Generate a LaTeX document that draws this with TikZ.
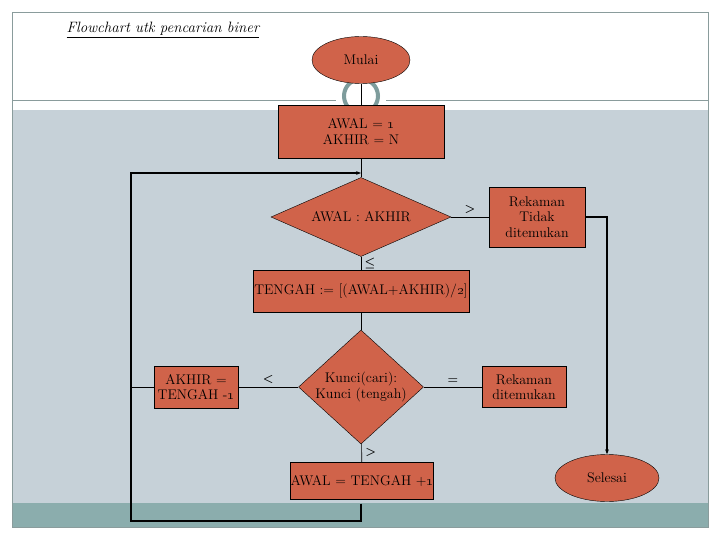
\documentclass[tikz,border=0pt]{standalone}
\usetikzlibrary{shapes.geometric,arrows.meta}
\definecolor{boxred}{RGB}{208,99,74}
\definecolor{slidegray}{RGB}{198,209,216}
\definecolor{slideteal}{RGB}{139,173,173}
\definecolor{framegray}{RGB}{138,156,156}
\definecolor{ringgray}{RGB}{126,156,156}
\begin{document}
\begin{tikzpicture}[x=1pt,y=-1pt,font=\fontsize{14}{15.5}\selectfont]
        \tikzstyle{proses}=[rectangle,draw=black,fill=boxred,inner sep=1pt,align=center]
        \tikzstyle{terminal}=[ellipse,draw=black,fill=boxred,inner sep=0pt]
        \tikzstyle{keputusan}=[diamond,draw=black,fill=boxred,inner sep=0pt,align=center]
        \tikzstyle{edge}=[draw,line width=0.6pt]
        \tikzstyle{loopedge}=[draw,line width=2.6pt]
        \tikzstyle{tanda}=[font=\boldmath\fontsize{13}{13}\selectfont]

        \useasboundingbox (0,0) rectangle (720,540);
        % latar slide
        \fill[white] (0,0) rectangle (720,540);
        \fill[slidegray] (12,110) rectangle (708,503);
        \fill[slideteal] (12,503) rectangle (708,527);
        \draw[framegray] (12,12) rectangle (708,527);
        \draw[framegray] (12,100) -- (708,100);
        \fill[white] (361,100) circle (25);
        \draw[ringgray,line width=4pt] (361,96) circle (17);

        \node [anchor=base west,font=\fontsize{15}{16}\selectfont] (judul) at (63,33) {\itshape\underline{Flowchart utk pencarian biner}};
        \node [terminal,minimum width=98,minimum height=47] (mulai) at (361,60) {Mulai};
        \node [proses,minimum width=166,minimum height=53] (awal) at (361,131.5) {AWAL = \oldstylenums{1}\\AKHIR = N};
        \node [keputusan,aspect=2.28,minimum width=180,minimum height=79] (cek) at (361,217) {AWAL : AKHIR};
        \node [proses,minimum width=96,minimum height=60] (tidak) at (537,217) {Rekaman\\Tidak\\ditemukan};
        \node [proses,minimum width=216,minimum height=42] (tengah) at (361,291) {TENGAH := [(AWAL+AKHIR)/\oldstylenums{2}]};
        \node [keputusan,aspect=1.1,minimum width=125,minimum height=114] (kunci) at (361,387) {Kunci(cari):\\Kunci (tengah)};
        \node [proses,minimum width=84,minimum height=42] (akhir) at (196,387) {AKHIR =\\TENGAH -\oldstylenums{1}};
        \node [proses,minimum width=84,minimum height=41] (ketemu) at (524,387) {Rekaman\\ditemukan};
        \node [proses,inner sep=0pt,minimum width=139,minimum height=37] (awalbaru) at (362,481) {AWAL = TENGAH +\oldstylenums{1}};
        \node [terminal,minimum width=104,minimum height=47] (selesai) at (607,478) {Selesai};

        \coordinate (gabung) at (361,173);
        \coordinate (kiribawah) at (131,521);

        \path[edge] (mulai) -- (awal);
        \path[edge] (awal) -- (cek);
        \path[edge] (cek) -- node[tanda,above] {$>$} (tidak);
        \path[edge] (cek) -- node[tanda,right] {$\leq$} (tengah);
        \path[edge] (tengah) -- (kunci);
        \path[edge] (kunci) -- node[tanda,above] {$<$} (akhir);
        \path[edge] (kunci) -- node[tanda,above] {$=$} (ketemu);
        \path[edge] (kunci) -- node[tanda,right] {$>$} (awalbaru);
        \path[edge] (akhir.west) -- (akhir.west -| kiribawah);
        \path[loopedge,shorten <=4pt,-{Stealth[length=5pt]}] (awalbaru.south -| gabung) |- (kiribawah) |- (gabung);
        \path[loopedge,-{Stealth[length=5pt]}] (tidak.east) -| (selesai.north);
\end{tikzpicture}
\end{document}
